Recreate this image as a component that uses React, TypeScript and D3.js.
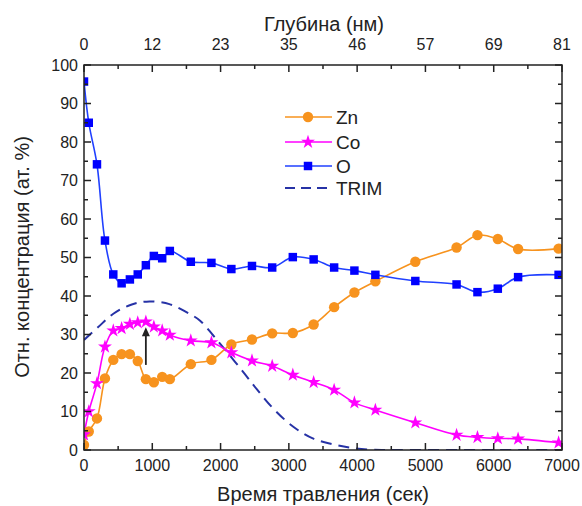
import React from "react";
import * as d3 from "d3";

const times = [0, 70, 190, 307, 429, 551, 672, 787, 906, 1023, 1145, 1257, 1564, 1866, 2158, 2460, 2756, 3058, 3363, 3663, 3960, 4267, 4852, 5456, 5762, 6060, 6357, 6950];
const znVals = [1.3, 4.8, 8.2, 18.6, 23.4, 24.9, 24.9, 23.1, 18.4, 17.6, 19.0, 18.4, 22.3, 23.4, 27.4, 28.7, 30.3, 30.4, 32.6, 37.1, 40.9, 43.8, 48.9, 52.6, 55.8, 54.8, 52.2, 52.3];
const coVals = [4.0, 10.0, 17.3, 26.8, 31.0, 31.6, 32.7, 33.1, 33.3, 32.0, 31.0, 29.9, 28.4, 27.9, 25.3, 23.2, 21.8, 19.5, 17.6, 15.6, 12.3, 10.4, 7.1, 3.9, 3.3, 3.0, 2.9, 1.9];
const oVals = [95.7, 85.0, 74.2, 54.4, 45.6, 43.3, 44.3, 45.6, 48.0, 50.4, 49.8, 51.7, 48.9, 48.6, 47.0, 47.8, 47.4, 50.1, 49.5, 47.4, 46.6, 45.5, 43.9, 43.0, 41.0, 41.9, 44.9, 45.5];

const trimTimes = [0, 200, 430, 700, 960, 1250, 1500, 1700, 1890, 2050, 2330, 2530, 2770, 3060, 3350, 3640, 3900, 4200, 4500, 7000];
const trimVals = [28.6, 31.8, 35.4, 37.8, 38.6, 37.9, 35.8, 33.6, 29.8, 26.4, 20.3, 15.8, 10.8, 6.1, 3.0, 1.5, 0.6, 0.1, 0, 0];

const bottomTicks = [0, 1000, 2000, 3000, 4000, 5000, 6000, 7000];
const topTickLabels = ["0", "12", "23", "35", "46", "57", "69", "81"];
const yTicks = [0, 10, 20, 30, 40, 50, 60, 70, 80, 90, 100];

const arrowTime = 906;
const arrowFrom = 22.1;
const arrowTo = 31.9;

const seriesNames = ["Zn", "Co", "O", "TRIM"];

const FONT = "'Liberation Sans', Arial, sans-serif";

export default function App() {
  const L = 84, R = 562, T = 65, B = 450;
  const x = d3.scaleLinear().domain([0, 7000]).range([L, R]);
  const y = d3.scaleLinear().domain([0, 100]).range([B, T]);

  const curve = d3.curveCatmullRom.alpha(0.5);
  const mkLine = (vals: number[], ts: number[]) =>
    d3.line<number>().x((_, i) => x(ts[i])).y((v) => y(v)).curve(curve)(vals) || "";

  const ZN = "#f7931e";
  const CO = "#ff00ff";
  const O = "#0000ff";
  const OL = "#2040ff";
  const TR = "#2632a6";

  const circle = d3.symbol().type(d3.symbolCircle).size(85)() || "";
  const star = d3.symbol().type(d3.symbolStar).size(60)() || "";
  const square = d3.symbol().type(d3.symbolSquare).size(72)() || "";

  const minorX = d3.range(0, 7001, 500);
  const minorY = d3.range(0, 101, 5);

  const legendY = [117, 142, 166, 188];
  const legendColors = [ZN, CO, OL, TR];
  const legendMarkers = [circle, star, square, ""];
  const legendFill = [ZN, CO, O, ""];

  return (
    <svg width={582} height={506} style={{ position: "absolute", left: 0, top: 0, background: "#fff" }} fontFamily={FONT}>
      <defs>
        <clipPath id="plotclip">
          <rect x={L} y={T - 10} width={R - L} height={B - T + 10} />
        </clipPath>
      </defs>

      <g clipPath="url(#plotclip)">
        <path d={mkLine(trimVals, trimTimes)} fill="none" stroke={TR} strokeWidth={2} strokeDasharray="11,7" />
        <path d={mkLine(znVals, times)} fill="none" stroke={ZN} strokeWidth={1.6} />
        <path d={mkLine(coVals, times)} fill="none" stroke={CO} strokeWidth={1.6} />
        <path d={mkLine(oVals, times)} fill="none" stroke={OL} strokeWidth={1.6} />
        {znVals.map((v, i) => (
          <path key={"zn" + i} d={circle} transform={`translate(${x(times[i])},${y(v)})`} fill={ZN} />
        ))}
        {coVals.map((v, i) => (
          <path key={"co" + i} d={star} transform={`translate(${x(times[i])},${y(v)})`} fill={CO} />
        ))}
        {oVals.map((v, i) => (
          <path key={"o" + i} d={square} transform={`translate(${x(times[i])},${y(v)})`} fill={O} />
        ))}
      </g>

      <line x1={x(arrowTime)} x2={x(arrowTime)} y1={y(arrowFrom)} y2={y(arrowTo) + 7} stroke="#222" strokeWidth={1.8} />
      <path
        d={`M${x(arrowTime)},${y(arrowTo)} L${x(arrowTime) - 4},${y(arrowTo) + 9} L${x(arrowTime) + 4},${y(arrowTo) + 9} Z`}
        fill="#222"
      />

      <rect x={L} y={T} width={R - L} height={B - T} fill="none" stroke="#222" strokeWidth={1.5} />

      {minorX.map((t) => {
        const major = t % 1000 === 0;
        const len = major ? 7 : 4;
        return (
          <g key={"xt" + t}>
            <line x1={x(t)} x2={x(t)} y1={B} y2={B - len} stroke="#222" strokeWidth={1.5} />
            <line x1={x(t)} x2={x(t)} y1={T} y2={T + len} stroke="#222" strokeWidth={1.5} />
          </g>
        );
      })}
      {minorY.map((v) => {
        const major = v % 10 === 0;
        const len = major ? 7 : 4;
        return (
          <g key={"yt" + v}>
            <line x1={L} x2={L + len} y1={y(v)} y2={y(v)} stroke="#222" strokeWidth={1.5} />
            <line x1={R} x2={R - len} y1={y(v)} y2={y(v)} stroke="#222" strokeWidth={1.5} />
          </g>
        );
      })}

      {bottomTicks.map((t) => (
        <text key={"bl" + t} x={x(t)} y={471} fontSize={16} textAnchor="middle" fill="#222">
          {t}
        </text>
      ))}
      {bottomTicks.map((t, i) => (
        <text key={"tl" + t} x={x(t)} y={50} fontSize={16} textAnchor="middle" fill="#222">
          {topTickLabels[i]}
        </text>
      ))}
      {yTicks.map((v) => (
        <text key={"yl" + v} x={78} y={y(v) + 5.5} fontSize={16} textAnchor="end" fill="#222">
          {v}
        </text>
      ))}

      <text x={323} y={501} fontSize={20} textAnchor="middle" fill="#222">
        Время травления (сек)
      </text>
      <text x={324} y={31} fontSize={20} textAnchor="middle" fill="#222">
        Глубина (нм)
      </text>
      <text transform={`translate(29,257) rotate(-90)`} fontSize={20} textAnchor="middle" fill="#222">
        Отн. концентрация (ат. %)
      </text>

      {seriesNames.map((name, i) => (
        <g key={"lg" + name}>
          <line
            x1={285}
            x2={332}
            y1={legendY[i]}
            y2={legendY[i]}
            stroke={legendColors[i]}
            strokeWidth={i === 3 ? 2 : 1.6}
            strokeDasharray={i === 3 ? "10,6" : undefined}
          />
          {legendMarkers[i] && (
            <path d={legendMarkers[i]} transform={`translate(308,${legendY[i]})`} fill={legendFill[i]} />
          )}
          <text x={336} y={legendY[i] + 6.5} fontSize={19} fill="#222">
            {name}
          </text>
        </g>
      ))}
    </svg>
  );
}
